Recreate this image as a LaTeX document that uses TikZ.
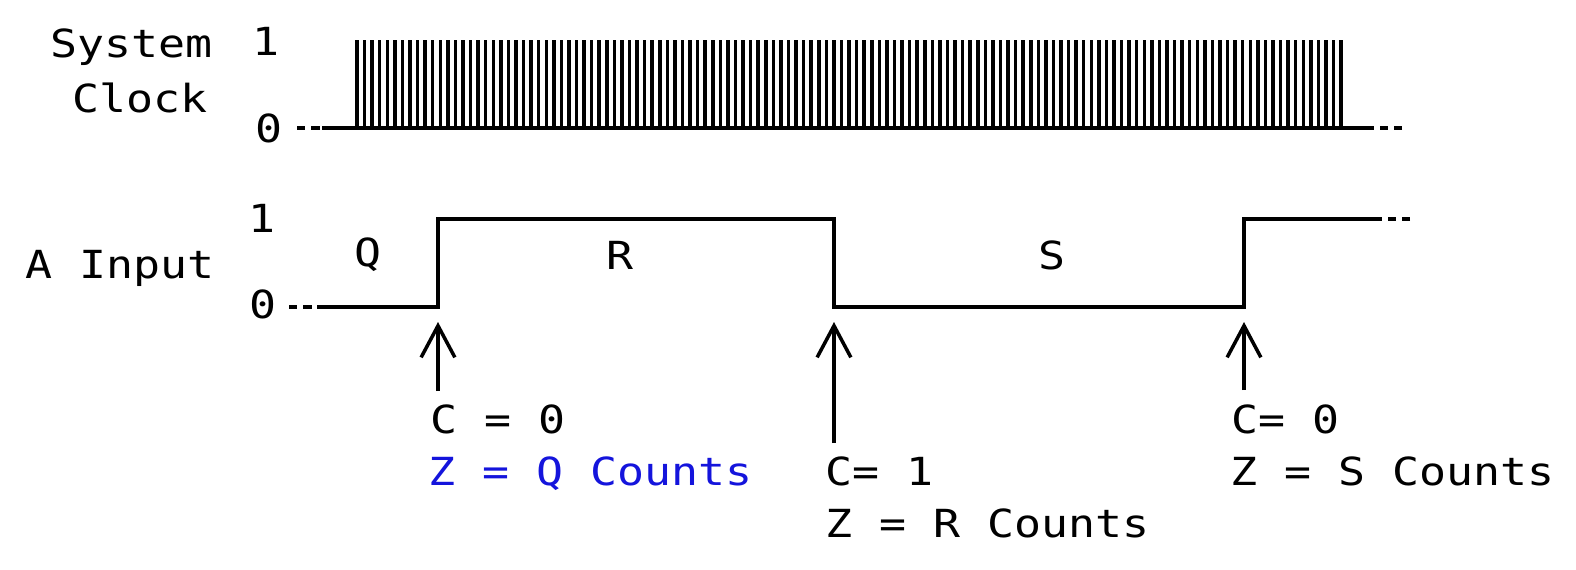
\documentclass[tikz,border=0pt]{standalone}
\usepackage{fontspec}
\usepackage{tikz}
\usetikzlibrary{arrows.meta}
\newfontfamily\tracefont[FakeStretch=1.16]{DejaVu Sans Mono}
\definecolor{zblue}{RGB}{20,20,220}
\tikzstyle{txt}=[inner sep=0pt, anchor=base west,
  font=\tracefont\fontsize{11}{13}\selectfont]
\tikzstyle{lvl}=[txt, anchor=center]
\tikzstyle{signal}=[draw, line width=1pt, line join=miter]
\tikzstyle{stub}=[draw, line width=1pt, dash pattern=on 2.4pt off 1.6pt]
\tikzstyle{pointer}=[draw, line width=1pt,
  -{Straight Barb[length=9pt,width=9.6pt]}]
\begin{document}
\begin{tikzpicture}[x=0.01cm,y=-0.01cm]
  \useasboundingbox (0,0) rectangle (1576,570);

  % Signal names and levels
  \node[txt] (sys) at (50,58) {System};
  \node[txt] (clk) at (72,113) {Clock};
  \node[lvl] (clkhi) at (266,41) {1};
  \node[lvl] (clklo) at (269,128) {0};
  \node[txt] (ain) at (25,278) {A Input};
  \node[lvl] (ahi) at (262,218) {1};
  \node[lvl] (alo) at (263,304) {0};

  % Intervals
  \node[lvl] (q) at (368,255) {Q};
  \node[lvl] (r) at (620,255) {R};
  \node[lvl] (s) at (1052,255) {S};

  % System clock
  \draw[stub] (297,128) -- (322,128);
  \draw[signal] (322,128) -- (1372,128);
  \draw[stub] (1402,128) -- (1372,128);
  \foreach \i in {0,...,130}
    \draw[signal] (357+\i*7.57,128) -- ++(0,-88);

  % A input
  \draw[stub] (289,307) -- (320,307);
  \draw[signal] (320,307) -- (438,307) -- (438,219) -- (834,219)
    -- (834,307) -- (1244,307) -- (1244,219) -- (1377,219);
  \draw[stub] (1410,219) -- (1377,219);

  % Edges
  \coordinate (e1) at (438,322);
  \coordinate (e2) at (834,322);
  \coordinate (e3) at (1244,322);
  \coordinate (b1) at (438,391);
  \coordinate (b2) at (834,443);
  \coordinate (b3) at (1244,390);
  \path[pointer] (b1) -- (e1);
  \path[pointer] (b2) -- (e2);
  \path[pointer] (b3) -- (e3);

  % Counter values
  \node[txt] (c1) at (430,433) {C = 0};
  \node[txt, text=zblue] (z1) at (428,485) {Z = Q Counts};
  \node[txt] (c2) at (825,485) {C= 1};
  \node[txt] (z2) at (825,537) {Z = R Counts};
  \node[txt] (c3) at (1231,433) {C= 0};
  \node[txt] (z3) at (1230,485) {Z = S Counts};
\end{tikzpicture}
\end{document}
